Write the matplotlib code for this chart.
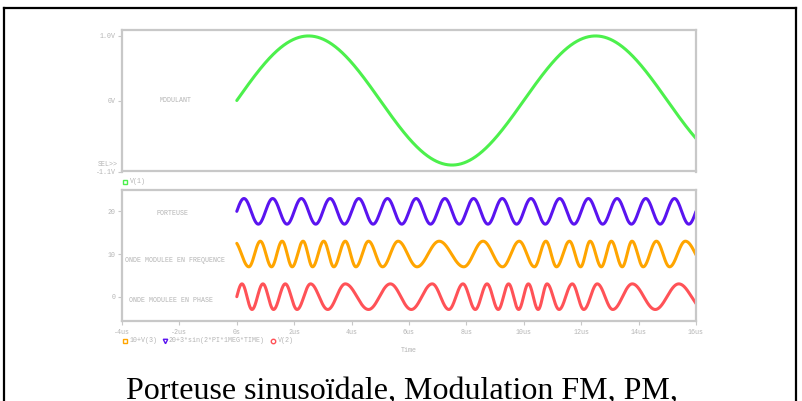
import numpy as np
import matplotlib
matplotlib.use("Agg")
import matplotlib.pyplot as plt
from matplotlib.lines import Line2D

# ---------------- data ----------------
# modulating signal V(1)
mod_amplitude = 1.0
mod_period_us = 10.0
# carrier 20+3*sin(2*PI*1MEG*TIME)
carrier_offset = 20.0
carrier_amplitude = 3.0
carrier_freq_mhz = 1.0
# FM wave 10+V(3): times (us) of successive extrema, first one is a trough
fm_offset = 10.0
fm_amplitude = 3.0
fm_extrema_us = [0.42, 0.82, 1.21, 1.58, 1.93, 2.31, 2.64, 3.03, 3.38, 3.78,
                 4.15, 4.59, 5.08, 5.62, 6.28, 7.05, 7.91, 8.58, 9.26, 9.84,
                 10.37, 10.77, 11.14, 11.59, 11.98, 12.31, 12.70, 13.05, 13.43,
                 13.77, 14.16, 14.62, 15.08, 15.63]
fm_first_is_peak = False
fm_start_value = 12.5   # at 0 s, falling
fm_end_value = 9.8      # at 16 us, falling
# PM wave V(2): times (us) of successive extrema, first one is a peak
pm_offset = 0.0
pm_amplitude = 3.0
pm_extrema_us = [0.18, 0.53, 0.91, 1.28, 1.69, 2.10, 2.57, 3.17, 3.78, 4.59,
                 5.35, 6.08, 6.81, 7.39, 7.88, 8.31, 8.72, 9.11, 9.47, 9.82,
                 10.16, 10.50, 10.81, 11.23, 11.69, 12.09, 12.56, 13.10, 13.78,
                 14.58, 15.40]
pm_first_is_peak = True
pm_start_value = 0.0    # at 0 s, rising
pm_end_value = -1.6     # at 16 us, falling

t_start, t_end = 0.0, 16.0
xticks = [-4, -2, 0, 2, 4, 6, 8, 10, 12, 14, 16]
xticklabels = ["-4us", "-2us", "0s", "2us", "4us", "6us", "8us", "10us",
               "12us", "14us", "16us"]
top_yticks = [-1.1, 0.0, 1.0]
top_yticklabels = ["-1.1V", "0V", "1.0V"]
bot_yticks = [0, 10, 20]
bot_yticklabels = ["0", "10", "20"]

# ---------------- build curves ----------------
t = np.linspace(t_start, t_end, 4000)


def wave_from_extrema(tt, extrema, first_peak, offset, amp, v0, v1):
    n = len(extrema)
    base = 0 if first_peak else 1
    h_ext = np.arange(n) + base
    c0 = np.arccos(np.clip((v0 - offset) / amp, -1, 1)) / np.pi
    # rising towards a first peak, or falling towards a first trough
    h0 = -c0 if first_peak else c0
    last_h = h_ext[-1]
    c1 = np.arccos(np.clip((v1 - offset) / amp, -1, 1)) / np.pi
    h1 = last_h + (c1 if last_h % 2 == 0 else 1 - c1)
    at = np.concatenate([[t_start], extrema, [t_end]])
    ah = np.concatenate([[h0], h_ext, [h1]])
    h = np.interp(tt, at, ah)
    return offset + amp * np.cos(np.pi * h)


v1 = mod_amplitude * np.sin(2 * np.pi * t / mod_period_us)
carrier = carrier_offset + carrier_amplitude * np.sin(2 * np.pi * carrier_freq_mhz * t)
fm = wave_from_extrema(t, fm_extrema_us, fm_first_is_peak, fm_offset, fm_amplitude,
                       fm_start_value, fm_end_value)
pm = wave_from_extrema(t, pm_extrema_us, pm_first_is_peak, pm_offset, pm_amplitude,
                       pm_start_value, pm_end_value)

# ---------------- figure ----------------
W, H = 803, 401
fig = plt.figure(figsize=(W / 100, H / 100), dpi=100)
fig.patch.set_facecolor("white")


def rect(l, t_, r, b):
    return [l / W, 1 - b / H, (r - l) / W, (b - t_) / H]


def fx(x):
    return x / W


def fy(y):
    return 1 - y / H


MONO = "Liberation Mono"
TXT = "#b4b4b4"
SPINE = "#c8c8c8"
FS = 4.8

GREEN = "#4cf04c"
BLUE = "#5a14f0"
ORANGE = "#ffa500"
RED = "#ff5257"
LW = 2.2


def style_axes(ax):
    for s in ax.spines.values():
        s.set_color(SPINE)
        s.set_linewidth(1.6)
    ax.tick_params(axis="both", colors=SPINE, length=3, width=0.8,
                   labelcolor=TXT, labelsize=FS, pad=1.5)
    for lab in ax.get_xticklabels() + ax.get_yticklabels():
        lab.set_fontfamily(MONO)


# top plot
ax1 = fig.add_axes(rect(122, 29.5, 696, 171.5))
ax1.plot(t, v1, color=GREEN, lw=LW, solid_capstyle="round")
ax1.set_xlim(-4, 16)
ax1.set_ylim(-1.1, 1.1)
ax1.set_xticks([])
ax1.set_yticks(top_yticks)
ax1.set_yticklabels(top_yticklabels)
style_axes(ax1)
fig.text(fx(160), fy(100), "MODULANT", fontsize=FS, family=MONO, color=TXT,
         va="center", ha="left")
fig.text(fx(118), fy(164), "SEL>>", fontsize=FS, family=MONO, color=TXT,
         va="center", ha="right")

# bottom plot
ax2 = fig.add_axes(rect(122, 190, 696, 321))
ax2.plot(t, carrier, color=BLUE, lw=LW, solid_capstyle="round")
ax2.plot(t, fm, color=ORANGE, lw=LW, solid_capstyle="round")
ax2.plot(t, pm, color=RED, lw=LW, solid_capstyle="round")
ax2.set_xlim(-4, 16)
ax2.set_ylim(-5.7, 25)
ax2.set_xticks(xticks)
ax2.set_xticklabels(xticklabels)
ax2.set_yticks(bot_yticks)
ax2.set_yticklabels(bot_yticklabels)
style_axes(ax2)
ax2.tick_params(axis="x", pad=3)

fig.text(fx(157), fy(214), "PORTEUSE", fontsize=FS, family=MONO, color=TXT,
         va="center", ha="left")
fig.text(fx(125), fy(260), "ONDE MODULEE EN FREQUENCE", fontsize=FS, family=MONO,
         color=TXT, va="center", ha="left")
fig.text(fx(129), fy(300), "ONDE MODULEE EN PHASE", fontsize=FS, family=MONO,
         color=TXT, va="center", ha="left")

# legends


def marker(x, y, m, c, ms=3.2):
    fig.add_artist(Line2D([fx(x)], [fy(y)], transform=fig.transFigure, marker=m,
                          markersize=ms, markerfacecolor="none",
                          markeredgecolor=c, markeredgewidth=1.0, linestyle="none"))


marker(125, 182, "s", GREEN)
fig.text(fx(130), fy(182), "V(1)", fontsize=FS, family=MONO, color=TXT, va="center")

marker(125, 341, "s", ORANGE)
fig.text(fx(130), fy(341), "10+V(3)", fontsize=FS, family=MONO, color=TXT, va="center")
marker(164.5, 341, "v", BLUE)
fig.text(fx(169), fy(341), "20+3*sin(2*PI*1MEG*TIME)", fontsize=FS, family=MONO,
         color=TXT, va="center")
marker(273.5, 341, "o", RED)
fig.text(fx(278), fy(341), "V(2)", fontsize=FS, family=MONO, color=TXT, va="center")

fig.text(fx(409), fy(350.5), "Time", fontsize=FS, family=MONO, color=TXT,
         va="center", ha="center")

# caption (cut at the bottom edge as in the reference)
fig.text(fx(401.5), fy(399), "Porteuse sinusoïdale, Modulation FM, PM,",
         fontsize=23, family="Liberation Serif", color="black",
         ha="center", va="baseline")

# outer frame
for xs, ys in [([4.5, 4.5], [7.5, 401]), ([4.5, 796], [7.5, 7.5]),
               ([796, 796], [7.5, 401])]:
    fig.add_artist(Line2D([fx(x) for x in xs], [fy(y) for y in ys],
                          transform=fig.transFigure, color="black", lw=1.6))

fig.savefig("out.png", dpi=100, facecolor="white")
